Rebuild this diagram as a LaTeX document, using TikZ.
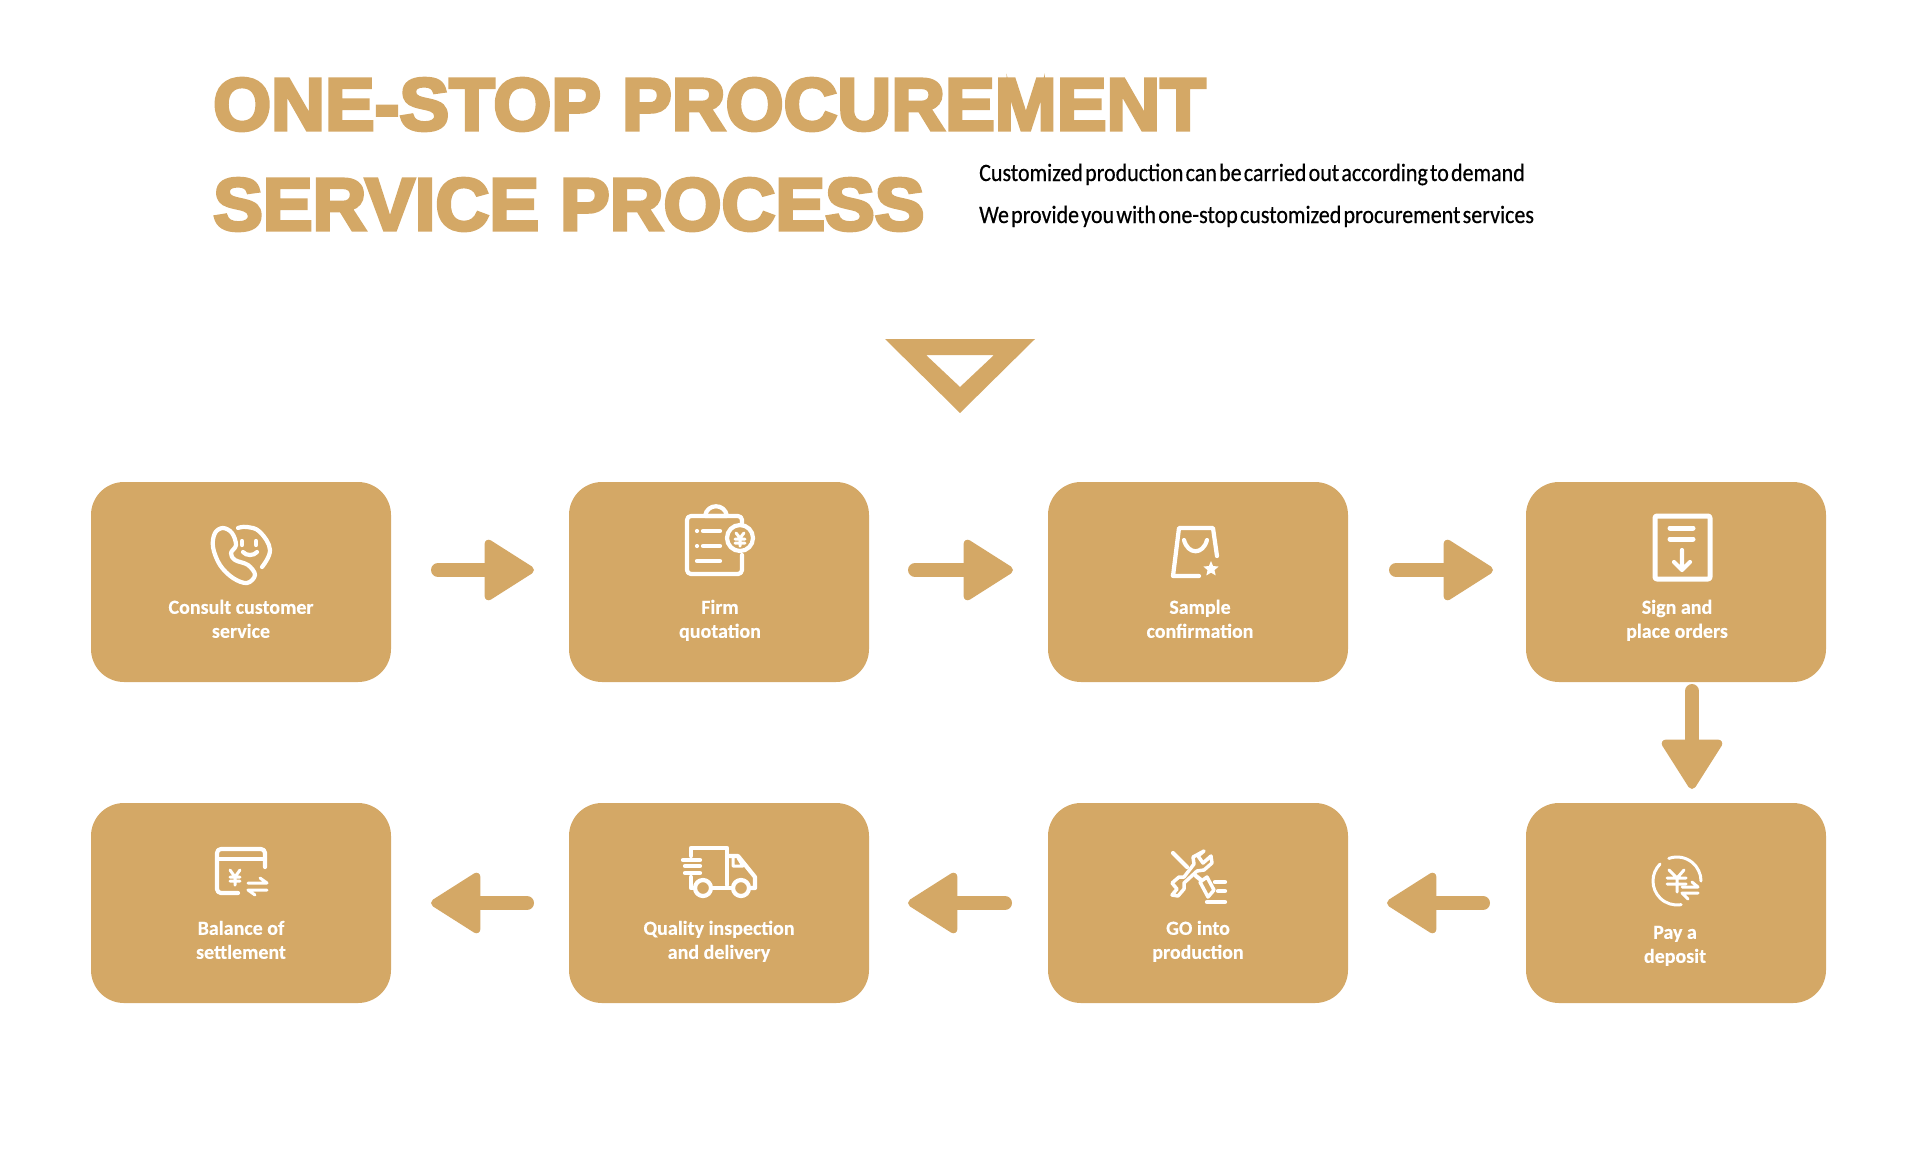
\documentclass[tikz,border=0pt]{standalone}
\usepackage{fontspec}
\usetikzlibrary{positioning, arrows.meta, shapes.geometric}
\definecolor{gold}{HTML}{D4A866}
\newfontfamily\titlefont[FakeBold=4.5, FakeStretch=1.007, WordSpace=1.02]{Liberation Sans Bold}
\newfontfamily\subfont[FakeStretch=0.88, FakeBold=0.5, WordSpace=0.45]{Carlito}
\newfontfamily\boxfont[FakeBold=0.3]{Carlito Bold}

\begin{document}
\begin{tikzpicture}[
    x=1pt, y=-1pt,
    stepbox/.style={rectangle, fill=gold, rounded corners=33pt, inner sep=0pt, outer sep=0pt,
                  minimum width=300pt, minimum height=200pt},
    steptext/.style={align=center, text=white, inner sep=0pt, font=\boxfont\fontsize{20}{24}\selectfont},
    titletext/.style={anchor=base west, inner sep=0pt, text=gold, font=\titlefont\fontsize{74}{80}\selectfont},
    subtext/.style={anchor=base west, inner sep=0pt, text=black, font=\subfont\fontsize{25}{28}\selectfont},
    flowarrow/.style={-{Triangle[length=53pt, width=65pt, line width=8pt, round, fill=gold]},
                  draw=gold, line width=14pt, line cap=round},
    icon/.style={draw=white, line width=4.2pt, line cap=round, line join=round},
    thinicon/.style={icon, line width=3pt}
]
  \useasboundingbox (0,0) rectangle (1920,1157);

  \node[titletext] (title1) at (213,130) {ONE-STOP PROCUREMENT};
  \node[titletext] (title2) at (213,230) {SERVICE PROCESS};
  \node[subtext] (sub1) at (979,181) {Customized production can be carried out according to demand};
  \node[subtext] (sub2) at (979,223) {We provide you with one-stop customized procurement services};

  \fill[gold, even odd rule] (885,339) -- (1035,339) -- (960,413) -- cycle
    (926,355) -- (994,355) -- (960,387) -- cycle;

  \node[stepbox] (consult) at (241,582) {};
  \node[stepbox, right=178pt of consult] (firm) {};
  \node[stepbox, right=179pt of firm] (sample) {};
  \node[stepbox, right=178pt of sample] (sign) {};
  \node[stepbox, below=121pt of sign] (pay) {};
  \node[stepbox, left=178pt of pay] (produce) {};
  \node[stepbox, left=179pt of produce] (quality) {};
  \node[stepbox, left=178pt of quality] (balance) {};

  \node[steptext] at ([yshift=-39pt]consult.center) {\strut Consult customer\\\strut service};
  \node[steptext] at ([yshift=-39pt, xshift=1pt]firm.center) {\strut Firm\\\strut quotation};
  \node[steptext] at ([yshift=-39pt, xshift=2pt]sample.center) {\strut Sample\\\strut confirmation};
  \node[steptext] at ([yshift=-39pt, xshift=1pt]sign.center) {\strut Sign and\\\strut place orders};
  \node[steptext] at ([yshift=-43pt, xshift=-1pt]pay.center) {\strut Pay a\\\strut deposit};
  \node[steptext] at ([yshift=-39pt]produce.center) {\strut GO into\\\strut production};
  \node[steptext] at ([yshift=-39pt]quality.center) {\strut Quality inspection\\\strut and delivery};
  \node[steptext] at ([yshift=-39pt]balance.center) {\strut Balance of\\\strut settlement};

  \draw[flowarrow, shorten <=47pt, shorten >=35pt] ([yshift=12pt]consult.east) -- ([yshift=12pt]firm.west);
  \draw[flowarrow, shorten <=46pt, shorten >=35pt] ([yshift=12pt]firm.east) -- ([yshift=12pt]sample.west);
  \draw[flowarrow, shorten <=48pt, shorten >=33pt] ([yshift=12pt]sample.east) -- ([yshift=12pt]sign.west);
  \draw[flowarrow, shorten <=9pt, shorten >=14pt] ([xshift=16pt]sign.south) -- ([xshift=16pt]pay.north);
  \draw[flowarrow, shorten <=43pt, shorten >=39pt] (pay.west) -- (produce.east);
  \draw[flowarrow, shorten <=43pt, shorten >=39pt] (produce.west) -- (quality.east);
  \draw[flowarrow, shorten <=42pt, shorten >=40pt] (quality.west) -- (balance.east);

  % consult
  \draw[icon] plot[smooth cycle, tension=.6] coordinates {(223,528) (232,533) (236,545) (231,553) (235,560) (248,565)
    (255,575) (247,583) (233,578) (220,565) (213,547) (215,533)};
  \draw[icon] plot[smooth, tension=.7] coordinates {(238,528) (247,527) (260,532) (270,550) (262,567)};
  \draw[icon] (242,541) -- (242,545) (256,541) -- (256,545);
  \draw[icon] (243,552) .. controls (246,556) and (254,556) .. (257,552);

  % firm
  \draw[icon, rounded corners=4pt] (742,525) -- (742,516) -- (687,516) -- (687,574) -- (742,574) -- (742,555);
  \draw[icon] (705,516) .. controls (707,503) and (725,503) .. (727,516) -- cycle;
  \draw[icon] (740,538) circle (13);
  \draw[thinicon] (736,533) -- (740,538) -- (744,533) (740,538) -- (740,546) (735,539) -- (745,539) (735,543) -- (745,543);
  \draw[icon] (697,531) -- (697,531) (697,546) -- (697,546);
  \draw[icon] (703,531) -- (720,531) (703,546) -- (720,546) (697,561) -- (720,561);

  % sample
  \draw[icon] (1217,556) -- (1213,528) -- (1179,528) -- (1173,576) -- (1199,576);
  \draw[icon] (1184,540) .. controls (1188,555) and (1203,555) .. (1207,540);
  \node[star, fill=white, star point ratio=2.2, minimum size=16pt, inner sep=0pt] (bagstar) at (1211,569) {};

  % sign
  \draw[icon, line width=5pt, rounded corners=2pt] (1655,516) rectangle (1710,579);
  \draw[icon, line width=5pt] (1670,528) -- (1693,528) (1670,539) -- (1693,539);
  \draw[icon] (1682,550) -- (1682,568) (1674,562) -- (1682,570) -- (1690,562);

  % pay
  \draw[thinicon] (1677,881) ++(-110:24) arc (-110:0:24);
  \draw[thinicon] (1677,881) ++(-135:24) arc (-135:-280:24);
  \draw[thinicon] (1669,870) -- (1677,878) -- (1684,870) (1677,878) -- (1677,892) (1667,878) -- (1686,878) (1667,884) -- (1686,884);
  \draw[thinicon] (1682,887) -- (1698,887) -- (1692,882) (1698,893) -- (1682,893) -- (1688,899);

  % produce
  \draw[icon, line width=3.5pt] (1204,851) -- (1198,856) -- (1203,863) -- (1211,856) -- (1212,863) -- (1204,870) -- (1197,871)
    -- (1184,883) -- (1184,889) -- (1178,896) -- (1172,895) -- (1177,889) -- (1172,883) -- (1179,877) -- (1184,877)
    -- (1194,864) -- (1193,857) -- cycle;
  \draw[icon] (1173,853) -- (1187,867) (1196,876) -- (1201,880);
  \draw[icon, line width=3.5pt] (1200,882) -- (1207,877) -- (1214,890) -- (1208,897) -- cycle;
  \draw[icon] (1215,882) -- (1225,882) (1218,891) -- (1225,891) (1207,902) -- (1225,902);

  % quality
  \draw[icon] (691,856) -- (691,848) -- (727,848) -- (727,885) (691,877) -- (691,888) -- (695,888) (712,888) -- (733,888);
  \draw[icon] (727,856) -- (738,856) -- (755,877) -- (755,888) -- (750,888);
  \draw[thinicon] (733,858) -- (733,866) -- (743,866) -- (738,858);
  \draw[icon] (683,860) -- (700,860) (685,866) -- (700,866) (685,873) -- (700,873);
  \draw[icon] (703,888) circle (8) (741,888) circle (8);

  % balance
  \draw[icon, rounded corners=4pt] (265,867) -- (265,849) -- (217,849) -- (217,893) -- (238,893);
  \draw[icon] (217,859) -- (265,859);
  \draw[thinicon] (230,870) -- (235,877) -- (240,870) (235,877) -- (235,885) (230,877) -- (240,877) (230,881) -- (240,881);
  \draw[thinicon] (248,883) -- (267,883) -- (260,878) (267,890) -- (248,890) -- (255,895);
\end{tikzpicture}
\end{document}
